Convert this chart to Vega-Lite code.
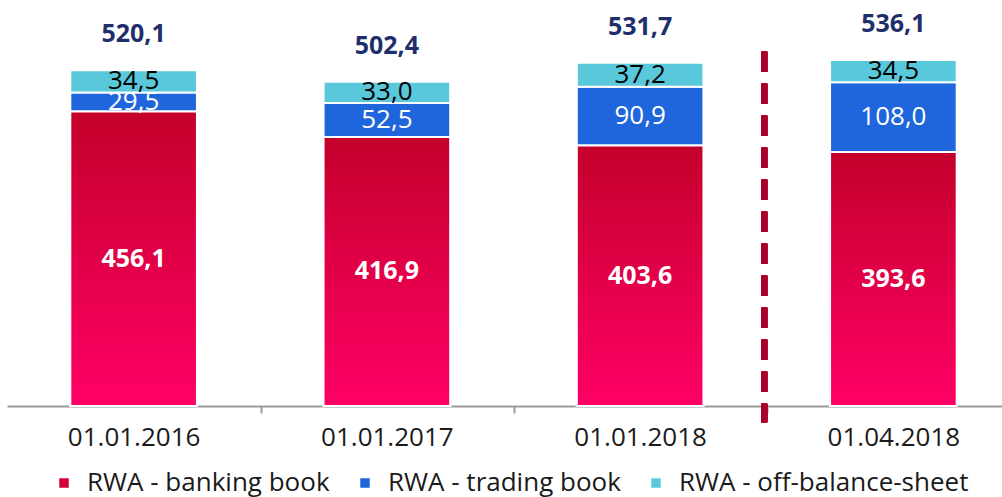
{
  "$schema": "https://vega.github.io/schema/vega-lite/v6.json",
  "width": 1013,
  "height": 406,
  "autosize": {"type": "none"},
  "padding": {"left": 7, "top": 0, "right": 0, "bottom": 91},
  "background": "white",
  "config": {
    "view": {"stroke": null},
    "font": "Open Sans",
    "locale": {"number": {"decimal": ",", "thousands": " ", "grouping": [3], "currency": ["", ""]}}
  },
  "data": {
    "values": [
      {"date": "01.01.2016", "series": "RWA - banking book", "ord": 1, "value": 456.1},
      {"date": "01.01.2016", "series": "RWA - trading book", "ord": 2, "value": 29.5},
      {"date": "01.01.2016", "series": "RWA - off-balance-sheet", "ord": 3, "value": 34.5},
      {"date": "01.01.2017", "series": "RWA - banking book", "ord": 1, "value": 416.9},
      {"date": "01.01.2017", "series": "RWA - trading book", "ord": 2, "value": 52.5},
      {"date": "01.01.2017", "series": "RWA - off-balance-sheet", "ord": 3, "value": 33.0},
      {"date": "01.01.2018", "series": "RWA - banking book", "ord": 1, "value": 403.6},
      {"date": "01.01.2018", "series": "RWA - trading book", "ord": 2, "value": 90.9},
      {"date": "01.01.2018", "series": "RWA - off-balance-sheet", "ord": 3, "value": 37.2},
      {"date": "01.04.2018", "series": "RWA - banking book", "ord": 1, "value": 393.6},
      {"date": "01.04.2018", "series": "RWA - trading book", "ord": 2, "value": 108.0},
      {"date": "01.04.2018", "series": "RWA - off-balance-sheet", "ord": 3, "value": 34.5}
    ]
  },
  "encoding": {
    "x": {
      "field": "date", "type": "nominal", "sort": null,
      "scale": {"paddingInner": 0.5, "paddingOuter": 0.25},
      "axis": {
        "title": null, "labelAngle": 0, "labelFontSize": 26, "labelColor": "#1a1a1a",
        "labelFont": "Open Sans", "labelPadding": 11, "labelOffset": -127,
        "domainColor": "#9a9a9a", "domainWidth": 2,
        "tickColor": "#9a9a9a", "tickWidth": 2, "tickSize": 7, "tickOffset": 127
      }
    }
  },
  "layer": [
    {
      "mark": {"type": "bar", "stroke": "white", "strokeWidth": 2},
      "encoding": {
        "y": {"field": "value", "type": "quantitative", "stack": "zero",
              "scale": {"domain": [0, 629], "nice": false, "zero": true}, "axis": null},
        "order": {"field": "ord", "type": "quantitative"},
        "color": {
          "field": "series", "type": "nominal",
          "scale": {"domain": ["RWA - banking book", "RWA - trading book", "RWA - off-balance-sheet"],
                    "range": ["#d2003a", "#1f66dd", "#58c8da"]},
          "legend": {
            "title": null, "orient": "none", "direction": "horizontal",
            "legendX": 44, "legendY": 470,
            "symbolType": "square", "symbolSize": 90, "symbolStrokeWidth": 0,
            "labelFontSize": 26, "labelFont": "Open Sans", "labelColor": "#1a1a1a",
            "labelOffset": 10, "columnPadding": 22, "labelLimit": 400
          }
        }
      }
    },
    {
      "transform": [{"filter": "datum.series === 'RWA - banking book'"}],
      "mark": {
        "type": "bar", "stroke": "white", "strokeWidth": 2,
        "color": {"gradient": "linear", "x1": 0, "y1": 0, "x2": 0, "y2": 1,
                  "stops": [{"offset": 0, "color": "#c4002a"}, {"offset": 1, "color": "#ff0066"}]}
      },
      "encoding": {
        "y": {"field": "value", "type": "quantitative", "stack": "zero"}
      }
    },
    {
      "mark": {"type": "text", "fontSize": 26, "font": "Open Sans", "baseline": "middle"},
      "encoding": {
        "y": {"field": "value", "type": "quantitative", "stack": "zero", "bandPosition": 0.5},
        "order": {"field": "ord", "type": "quantitative"},
        "text": {
          "condition": {"test": "datum.series !== 'RWA - banking book'", "field": "value", "type": "quantitative", "format": ".1f"},
          "value": ""
        },
        "color": {
          "field": "series", "type": "nominal",
          "scale": {"domain": ["RWA - banking book", "RWA - trading book", "RWA - off-balance-sheet"],
                    "range": ["#ffffff", "#ffffff", "#000000"]},
          "legend": null
        }
      }
    },
    {
      "transform": [{"filter": "datum.series === 'RWA - banking book'"}],
      "mark": {"type": "text", "fontSize": 25, "fontWeight": "bold", "font": "Open Sans", "baseline": "middle", "color": "white"},
      "encoding": {
        "y": {"field": "value", "type": "quantitative", "stack": "zero", "bandPosition": 0.5},
        "text": {"field": "value", "type": "quantitative", "format": ".1f"}
      }
    },
    {
      "transform": [{"aggregate": [{"op": "sum", "field": "value", "as": "total"}], "groupby": ["date"]}],
      "mark": {"type": "text", "fontSize": 25, "fontWeight": "bold", "font": "Open Sans", "baseline": "middle", "color": "#1f2f6b", "dy": -36},
      "encoding": {
        "y": {"field": "total", "type": "quantitative"},
        "text": {"field": "total", "type": "quantitative", "format": ".1f"}
      }
    },
    {
      "mark": {"type": "rule", "color": "#a8002a", "strokeWidth": 6, "strokeDash": [20, 12]},
      "encoding": {
        "x": {"datum": "01.01.2018", "bandPosition": 1.48},
        "y": {"datum": 549},
        "y2": {"datum": -25}
      }
    }
  ],
  "resolve": {"scale": {"color": "independent"}}
}
